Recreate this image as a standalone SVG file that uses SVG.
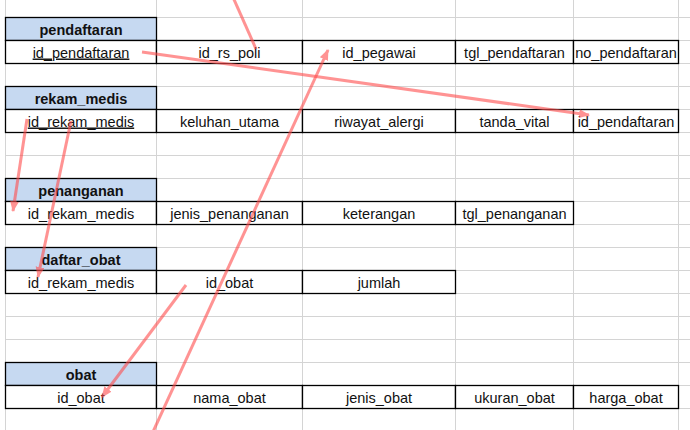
<svg xmlns="http://www.w3.org/2000/svg" width="690" height="430" viewBox="0 0 690 430">
<defs>
<style>
.grid line{stroke:#d4d4d4;stroke-width:1}
.cell{fill:#fff;stroke:#000;stroke-width:1.3}
.head{fill:#c6d9f1;stroke:#000;stroke-width:1.3}
text{font-family:"Liberation Sans",Arial,sans-serif;font-size:14.5px;fill:#111;text-anchor:middle}
.h{font-weight:bold}
.u{text-decoration:underline}
.conn line{stroke:#ff4d4d;stroke-width:3;opacity:0.6}
</style>
<marker id="ah" markerUnits="userSpaceOnUse" markerWidth="12" markerHeight="10" refX="10" refY="4.5" orient="auto">
<path d="M0,0 L11,4.5 L0,9 z" fill="#ff4d4d"/>
</marker>
</defs>
<rect width="690" height="430" fill="#fff"/>
<g class="grid">
<line x1="5.5" y1="0" x2="5.5" y2="430"/>
<line x1="156.5" y1="0" x2="156.5" y2="430"/>
<line x1="302.5" y1="0" x2="302.5" y2="430"/>
<line x1="455.5" y1="0" x2="455.5" y2="430"/>
<line x1="573.5" y1="0" x2="573.5" y2="430"/>
<line x1="678.5" y1="0" x2="678.5" y2="430"/>
<line x1="5" y1="17.5" x2="690" y2="17.5"/>
<line x1="5" y1="40.5" x2="690" y2="40.5"/>
<line x1="5" y1="63.5" x2="690" y2="63.5"/>
<line x1="5" y1="86.5" x2="690" y2="86.5"/>
<line x1="5" y1="109.5" x2="690" y2="109.5"/>
<line x1="5" y1="132.5" x2="690" y2="132.5"/>
<line x1="5" y1="155.5" x2="690" y2="155.5"/>
<line x1="5" y1="178.5" x2="690" y2="178.5"/>
<line x1="5" y1="201.5" x2="690" y2="201.5"/>
<line x1="5" y1="224.5" x2="690" y2="224.5"/>
<line x1="5" y1="247.5" x2="690" y2="247.5"/>
<line x1="5" y1="270.5" x2="690" y2="270.5"/>
<line x1="5" y1="293.5" x2="690" y2="293.5"/>
<line x1="5" y1="316.5" x2="690" y2="316.5"/>
<line x1="5" y1="339.5" x2="690" y2="339.5"/>
<line x1="5" y1="362.5" x2="690" y2="362.5"/>
<line x1="5" y1="385.5" x2="690" y2="385.5"/>
<line x1="5" y1="408.5" x2="690" y2="408.5"/>
</g>

<g id="pendaftaran">
<rect class="head" x="5.5" y="17.5" width="151" height="23"/>
<text class="h" x="81" y="35">pendaftaran</text>
<rect class="cell" x="5.5" y="40.5" width="151" height="23"/>
<rect class="cell" x="156.5" y="40.5" width="146" height="23"/>
<rect class="cell" x="302.5" y="40.5" width="153" height="23"/>
<rect class="cell" x="455.5" y="40.5" width="118" height="23"/>
<rect class="cell" x="573.5" y="40.5" width="105" height="23"/>
<text class="u" x="81" y="57.5">id_pendaftaran</text>
<text x="229.5" y="57.5">id_rs_poli</text>
<text x="379" y="57.5">id_pegawai</text>
<text x="514.5" y="57.5">tgl_pendaftaran</text>
<text x="626" y="57.5">no_pendaftaran</text>
</g>

<g id="rekam_medis">
<rect class="head" x="5.5" y="86.5" width="151" height="23"/>
<text class="h" x="81" y="104">rekam_medis</text>
<rect class="cell" x="5.5" y="109.5" width="151" height="23"/>
<rect class="cell" x="156.5" y="109.5" width="146" height="23"/>
<rect class="cell" x="302.5" y="109.5" width="153" height="23"/>
<rect class="cell" x="455.5" y="109.5" width="118" height="23"/>
<rect class="cell" x="573.5" y="109.5" width="105" height="23"/>
<text class="u" x="81" y="126.5">id_rekam_medis</text>
<text x="229.5" y="126.5">keluhan_utama</text>
<text x="379" y="126.5">riwayat_alergi</text>
<text x="514.5" y="126.5">tanda_vital</text>
<text x="626" y="126.5">id_pendaftaran</text>
</g>

<g id="penanganan">
<rect class="head" x="5.5" y="178.5" width="151" height="23"/>
<text class="h" x="81" y="196">penanganan</text>
<rect class="cell" x="5.5" y="201.5" width="151" height="23"/>
<rect class="cell" x="156.5" y="201.5" width="146" height="23"/>
<rect class="cell" x="302.5" y="201.5" width="153" height="23"/>
<rect class="cell" x="455.5" y="201.5" width="118" height="23"/>
<text x="81" y="218.5">id_rekam_medis</text>
<text x="229.5" y="218.5">jenis_penanganan</text>
<text x="379" y="218.5">keterangan</text>
<text x="514.5" y="218.5">tgl_penanganan</text>
</g>

<g id="daftar_obat">
<rect class="head" x="5.5" y="247.5" width="151" height="23"/>
<text class="h" x="81" y="265">daftar_obat</text>
<rect class="cell" x="5.5" y="270.5" width="151" height="23"/>
<rect class="cell" x="156.5" y="270.5" width="146" height="23"/>
<rect class="cell" x="302.5" y="270.5" width="153" height="23"/>
<text x="81" y="287.5">id_rekam_medis</text>
<text x="229.5" y="287.5">id_obat</text>
<text x="379" y="287.5">jumlah</text>
</g>

<g id="obat">
<rect class="head" x="5.5" y="362.5" width="151" height="23"/>
<text class="h" x="81" y="380">obat</text>
<rect class="cell" x="5.5" y="385.5" width="151" height="23"/>
<rect class="cell" x="156.5" y="385.5" width="146" height="23"/>
<rect class="cell" x="302.5" y="385.5" width="153" height="23"/>
<rect class="cell" x="455.5" y="385.5" width="118" height="23"/>
<rect class="cell" x="573.5" y="385.5" width="105" height="23"/>
<text x="81" y="402.5">id_obat</text>
<text x="229.5" y="402.5">nama_obat</text>
<text x="379" y="402.5">jenis_obat</text>
<text x="514.5" y="402.5">ukuran_obat</text>
<text x="626" y="402.5">harga_obat</text>
</g>

<g class="conn" id="connectors">
<line x1="232" y1="-5" x2="256" y2="49"/>
<line x1="142" y1="52" x2="589" y2="115" marker-end="url(#ah)"/>
<line x1="152" y1="434" x2="328" y2="50" marker-end="url(#ah)"/>
<line x1="27" y1="119" x2="13" y2="211" marker-end="url(#ah)"/>
<line x1="71" y1="121" x2="38" y2="277" marker-end="url(#ah)"/>
<line x1="186" y1="285" x2="102" y2="397" marker-end="url(#ah)"/>
</g>
</svg>
